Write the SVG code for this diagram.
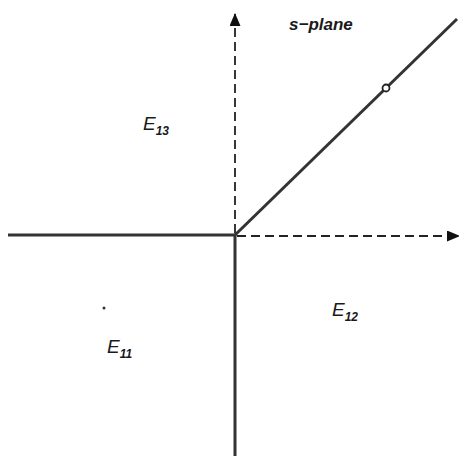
<svg xmlns="http://www.w3.org/2000/svg" width="459" height="456" viewBox="0 0 459 456">
<style>
.solid{stroke:#333;stroke-width:3;fill:none}
.dash{stroke:#222;stroke-width:1.8;fill:none;stroke-dasharray:9,5}
.lbl{font-family:"Liberation Sans",Arial,sans-serif;font-style:italic;fill:#1a1a1a}
</style>
<defs>
<marker id="ah" markerWidth="13" markerHeight="11" refX="12" refY="5.5" orient="auto" markerUnits="userSpaceOnUse">
<path d="M0,0 L13,5.5 L0,11 Z" fill="#111"/>
</marker>
</defs>
<rect width="459" height="456" fill="#fff"/>
<g id="connectors">
<line class="dash" x1="235" y1="233" x2="235" y2="14" marker-end="url(#ah)"/>
<line class="dash" x1="237" y1="236" x2="459" y2="236" marker-end="url(#ah)"/>
<line class="solid" x1="8" y1="235" x2="236" y2="235"/>
<line class="solid" x1="235" y1="234" x2="235" y2="456"/>
<line class="solid" x1="235" y1="235" x2="457" y2="19"/>
</g>
<g id="pole"><circle cx="386" cy="88" r="3.5" fill="#fff" stroke="#222" stroke-width="1.8"/></g>
<g id="splane"><text class="lbl" x="289" y="30" font-size="17" font-weight="bold">s−plane</text></g>
<g id="E13"><text class="lbl" x="143" y="130" font-size="19">E<tspan font-size="12" dy="5" font-weight="bold">13</tspan></text></g>
<g id="E12"><text class="lbl" x="332" y="316" font-size="19">E<tspan font-size="12" dy="5" font-weight="bold">12</tspan></text></g>
<g id="E11"><text class="lbl" x="107" y="353" font-size="19">E<tspan font-size="12" dy="5" font-weight="bold">11</tspan></text></g>
<circle cx="104" cy="308" r="1.5" fill="#333"/>
</svg>
